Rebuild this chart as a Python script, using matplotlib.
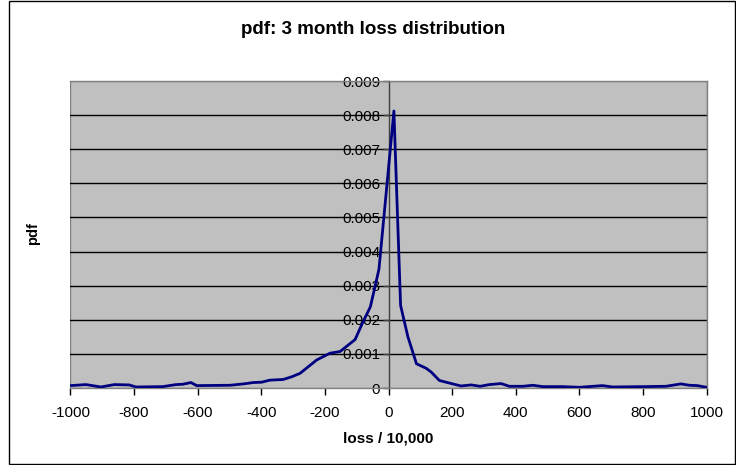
import matplotlib
matplotlib.use("Agg")
import matplotlib.pyplot as plt
from matplotlib.patches import Rectangle

plt.rcParams['font.family'] = ['Liberation Sans', 'DejaVu Sans']

loss = [-1000, -951, -904, -862, -815, -794, -710, -668, -647, -621, -603,
        -498, -456, -425, -399, -373, -331, -304, -278, -226, -205, -184,
        -152, -105, -82, -57, -30, 17, 38, 61, 88, 118, 134, 160, 202, 228,
        260, 288, 317, 354, 380, 422, 454, 485, 548, 600, 673, 704, 798,
        872, 919, 946, 971, 1000]
pdf = [0.00007, 0.00010, 0.00003, 0.00010, 0.00009, 0.00003, 0.00004,
       0.00010, 0.00011, 0.00016, 0.00007, 0.00008, 0.00012, 0.00016,
       0.00017, 0.00023, 0.00025, 0.00033, 0.00043, 0.00082, 0.00092,
       0.00102, 0.00107, 0.00142, 0.00190, 0.00238, 0.00348, 0.00812,
       0.00242, 0.00150, 0.00071, 0.00058, 0.00047, 0.00022, 0.00012,
       0.00006, 0.00009, 0.00005, 0.00010, 0.00013, 0.00005, 0.00005,
       0.00008, 0.00004, 0.00004, 0.00002, 0.00007, 0.00003, 0.00004,
       0.00005, 0.00012, 0.00008, 0.00007, 0.00002]

x_ticks = [-1000, -800, -600, -400, -200, 0, 200, 400, 600, 800, 1000]
y_ticks = [0, 0.001, 0.002, 0.003, 0.004, 0.005, 0.006, 0.007, 0.008, 0.009]
y_labels = ['0', '0.001', '0.002', '0.003', '0.004', '0.005', '0.006',
            '0.007', '0.008', '0.009']

W, H = 736, 465
fig = plt.figure(figsize=(W / 100, H / 100), dpi=100)
fig.patch.set_facecolor('white')

# outer chart border
fig.patches.append(Rectangle((8.5 / W, 1.5 / H), (735 - 8.5) / W, (463.5 - 1.5) / H,
                             transform=fig.transFigure, fill=False,
                             edgecolor='black', linewidth=1))

x0, x1, ytop, ybot = 70.4, 706.6, 81, 388
ax = fig.add_axes([x0 / W, 1 - ybot / H, (x1 - x0) / W, (ybot - ytop) / H])
ax.set_facecolor('#C0C0C0')
ax.set_xlim(-1000, 1000)
ax.set_ylim(0, 0.009)

for v in y_ticks[1:-1]:
    ax.axhline(v, color='black', linewidth=1, zorder=1)

ax.plot(loss, pdf, color='#000080', linewidth=2, zorder=3)

for s in ['top', 'right', 'bottom']:
    ax.spines[s].set_color('#808080')
    ax.spines[s].set_linewidth(1)
ax.spines['left'].set_position(('data', 0))
ax.spines['left'].set_color('#404040')
ax.spines['left'].set_linewidth(1)
ax.spines['left'].set_zorder(2)
ax.add_patch(Rectangle((0, 0), 1, 1, transform=ax.transAxes, fill=False,
                       edgecolor='#808080', linewidth=1, zorder=0.5))

ax.set_xticks(x_ticks)
ax.set_xticklabels([str(v) for v in x_ticks], fontsize=11)
ax.set_yticks(y_ticks)
ax.set_yticklabels(y_labels, fontsize=11)
ax.tick_params(axis='x', direction='out', length=5, width=1, color='black', pad=8)
ax.tick_params(axis='y', direction='out', length=4, width=1, color='#404040', pad=2)
for lbl in ax.get_yticklabels():
    lbl.set_zorder(4)

fig.text(373 / W, 1 - 30 / H, 'pdf: 3 month loss distribution', ha='center',
         va='center', fontsize=13.5, fontweight='bold')
fig.text(388 / W, 1 - 438 / H, 'loss / 10,000', ha='center', va='center',
         fontsize=11, fontweight='bold')
fig.text(33 / W, 1 - 234 / H, 'pdf', ha='center', va='center', rotation=90,
         fontsize=10.5, fontweight='bold')

fig.savefig('out.png', dpi=100)
